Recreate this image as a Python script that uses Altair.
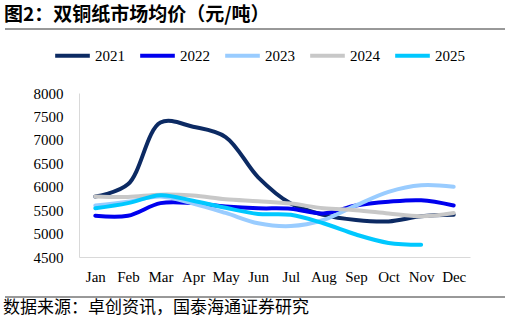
import altair as alt
import pandas as pd

months = ["Jan", "Feb", "Mar", "Apr", "May", "Jun", "Jul", "Aug", "Sep", "Oct", "Nov", "Dec"]
years = ["2021", "2022", "2023", "2024", "2025"]
colors = ["#0c2a63", "#0000ee", "#99ccff", "#c8c8c8", "#00c8ff"]

p2021 = [5790, 6050, 7370, 7280, 7060, 6200, 5640, 5400, 5290, 5260, 5370, 5400]
p2022 = [5380, 5380, 5650, 5650, 5580, 5540, 5530, 5430, 5600, 5680, 5710, 5600]
p2023 = [5600, 5680, 5790, 5640, 5440, 5220, 5160, 5290, 5600, 5890, 6030, 6000]
p2024 = [5790, 5780, 5830, 5810, 5730, 5690, 5640, 5540, 5500, 5430, 5370, 5440]
p2025 = [5540, 5650, 5820, 5700, 5550, 5420, 5400, 5220, 4980, 4800, 4760, None]

rows = []
for yr, vals in zip(years, [p2021, p2022, p2023, p2024, p2025]):
    for m, v in zip(months, vals):
        if v is not None:
            rows.append({"month": m, "year": yr, "price": v})
df = pd.DataFrame(rows)

serif = "Liberation Serif"
cjk = "Noto Sans CJK SC"

lines = alt.Chart(df).mark_line(strokeWidth=4, interpolate="catmull-rom", strokeCap="round").encode(
    x=alt.X("month:N", sort=months, scale=alt.Scale(type="point", padding=0.5),
            axis=alt.Axis(title=None, labelAngle=0, ticks=False, domainColor="#d9d9d9",
                          labelFont=serif, labelFontSize=15, labelColor="#000",
                          labelPadding=12, grid=False)),
    y=alt.Y("price:Q", scale=alt.Scale(domain=[4500, 8000], nice=False, zero=False),
            axis=alt.Axis(title=None, values=list(range(4500, 8001, 500)), format="d",
                          ticks=False, domainColor="#d9d9d9", labelFont=serif,
                          labelFontSize=15, labelColor="#000", labelPadding=16, grid=False)),
    color=alt.Color("year:N", scale=alt.Scale(domain=years, range=colors),
                    legend=alt.Legend(title=None, orient="none", direction="horizontal",
                                      legendX=-26, legendY=-57, symbolType="stroke",
                                      symbolSize=1200, symbolStrokeWidth=4,
                                      labelFont=serif, labelFontSize=15,
                                      labelFontWeight="normal", labelColor="#000",
                                      labelOffset=3, columnPadding=7)),
    order=alt.Order("year:N"),
)

title = alt.Chart(pd.DataFrame({"t": ["图2：双铜纸市场均价（元/吨）"]})).mark_text(
    align="left", baseline="middle", font=cjk, fontSize=19, fontWeight="bold", color="#000"
).encode(text="t:N", x=alt.value(-75), y=alt.value(-78))

source = alt.Chart(pd.DataFrame({"t": ["数据来源：卓创资讯，国泰海通证券研究"]})).mark_text(
    align="left", baseline="middle", font=cjk, fontSize=17, color="#000"
).encode(text="t:N", x=alt.value(-76), y=alt.value(215))

rule_top = alt.Chart(pd.DataFrame({"a": [0]})).mark_rule(color="#333", strokeWidth=1).encode(
    x=alt.value(-74), x2=alt.value(426), y=alt.value(-64))
rule_bottom = alt.Chart(pd.DataFrame({"a": [0]})).mark_rule(color="#333", strokeWidth=1).encode(
    x=alt.value(-74), x2=alt.value(426), y=alt.value(204))

chart = alt.layer(lines, title, source, rule_top, rule_bottom).properties(
    width=391, height=164,
    autosize=alt.AutoSizeParams(type="none"),
    padding={"left": 79, "top": 93, "right": 40, "bottom": 67},
    background="white",
).configure_view(stroke=None).configure_legend(labelFont=serif)

chart.save("out.html", embed_options={"renderer": "svg", "actions": False})
